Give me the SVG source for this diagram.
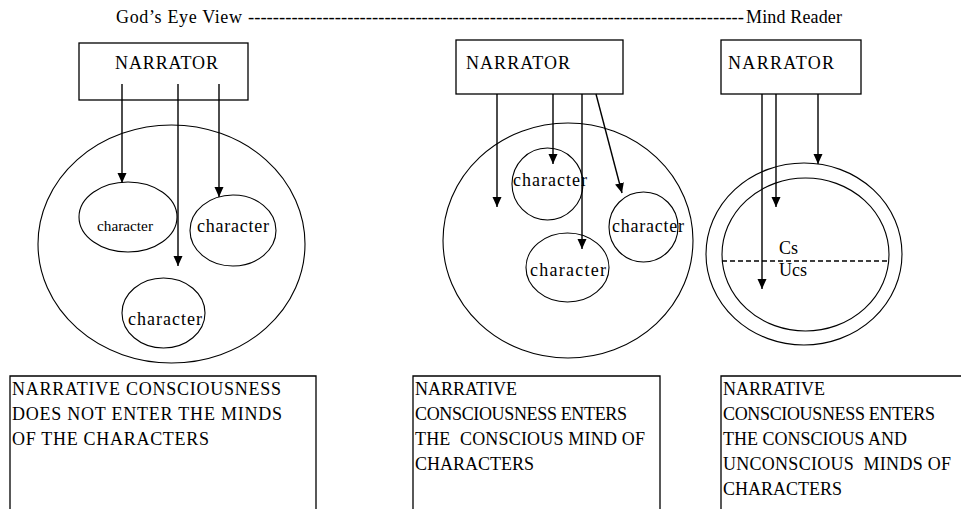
<svg xmlns="http://www.w3.org/2000/svg" width="961" height="509" viewBox="0 0 961 509" font-family="'Liberation Serif', 'DejaVu Serif', 'Times New Roman', serif">
<style>
  text { font-family: "Liberation Serif", "DejaVu Serif", "Times New Roman", serif; fill: #000; font-size: 18px; }
  .chs { font-size: 14px; }
  .box { fill: #fff; stroke: #000; stroke-width: 1.3; }
  .ell { fill: none; stroke: #000; stroke-width: 1.1; }
  .arr { fill: none; stroke: #000; stroke-width: 1.4; marker-end: url(#ah); }
  .dash { fill: none; stroke: #000; stroke-width: 1.3; stroke-dasharray: 5 3; }
</style>
<defs>
  <marker id="ah" markerUnits="userSpaceOnUse" markerWidth="10" markerHeight="10" viewBox="0 0 10 10" refX="10" refY="5" orient="auto">
    <path d="M0,0.5 L10,5 L0,9.5 z" fill="#000"/>
  </marker>
</defs>
<rect width="961" height="509" fill="#fff"/>

<g id="title">
  <text x="116" y="23" textLength="126" lengthAdjust="spacing">God’s Eye View</text>
  <text x="248" y="23" textLength="496" lengthAdjust="spacingAndGlyphs">--------------------------------------------------------------------------------</text>
  <text x="746" y="23" textLength="96" lengthAdjust="spacing">Mind Reader</text>
</g>

<!-- Panel 1 -->
<g id="p1-world"><ellipse class="ell" cx="171.5" cy="244" rx="133.5" ry="119"/></g>
<g id="p1-narrator">
  <rect class="box" x="79" y="43" width="169" height="57"/>
  <text x="115" y="69" textLength="103" lengthAdjust="spacing">NARRATOR</text>
</g>
<g id="p1-char1">
  <ellipse class="ell" cx="128" cy="217" rx="49" ry="35"/>
  <text class="chs" x="97" y="231" textLength="56" lengthAdjust="spacingAndGlyphs">character</text>
</g>
<g id="p1-char2">
  <ellipse class="ell" cx="233" cy="230.5" rx="43" ry="35.5"/>
  <text x="197" y="232" textLength="72" lengthAdjust="spacing">character</text>
</g>
<g id="p1-char3">
  <ellipse class="ell" cx="163.5" cy="313" rx="41.5" ry="35"/>
  <text x="128" y="325" textLength="74" lengthAdjust="spacing">character</text>
</g>

<!-- Panel 2 -->
<g id="p2-world"><ellipse class="ell" cx="568" cy="240.5" rx="125" ry="117.5"/></g>
<g id="p2-narrator">
  <rect class="box" x="456" y="40" width="167" height="54"/>
  <text x="466" y="69" textLength="104" lengthAdjust="spacing">NARRATOR</text>
</g>
<g id="p2-char1">
  <ellipse class="ell" cx="547.5" cy="184" rx="35.5" ry="36"/>
  <text x="513" y="186" textLength="74" lengthAdjust="spacing">character</text>
</g>
<g id="p2-char2">
  <ellipse class="ell" cx="643.5" cy="227" rx="34.5" ry="35"/>
  <text x="612" y="232" textLength="72" lengthAdjust="spacing">character</text>
</g>
<g id="p2-char3">
  <ellipse class="ell" cx="567.5" cy="267.5" rx="41.5" ry="34.5"/>
  <text x="530" y="276" textLength="76" lengthAdjust="spacing">character</text>
</g>

<!-- Panel 3 -->
<g id="p3-mind">
  <ellipse class="ell" cx="804" cy="254" rx="98" ry="91"/>
  <ellipse class="ell" cx="805.5" cy="254.5" rx="83.5" ry="76.5"/>
  <line class="dash" x1="722" y1="261" x2="889" y2="261"/>
  <text x="779" y="254">Cs</text>
  <text x="779" y="276">Ucs</text>
</g>
<g id="p3-narrator">
  <rect class="box" x="721" y="40" width="140" height="54"/>
  <text x="728" y="69" textLength="106" lengthAdjust="spacing">NARRATOR</text>
</g>

<!-- Connectors -->
<g id="connectors">
  <line class="arr" x1="122" y1="84" x2="122" y2="183"/>
  <line class="arr" x1="178" y1="84" x2="178" y2="266"/>
  <line class="arr" x1="219" y1="84" x2="219" y2="197"/>
  <line class="arr" x1="497" y1="94" x2="497" y2="207"/>
  <line class="arr" x1="553" y1="94" x2="553" y2="164"/>
  <line class="arr" x1="582" y1="94" x2="582" y2="249"/>
  <line class="arr" x1="596" y1="94" x2="622" y2="193"/>
  <line class="arr" x1="762" y1="94" x2="762" y2="289"/>
  <line class="arr" x1="776" y1="94" x2="776" y2="207"/>
  <line class="arr" x1="818" y1="94" x2="818" y2="164"/>
</g>

<!-- Caption boxes -->
<g id="caption1">
  <path class="box" d="M10,512 L10,376 L316,376 L316,512"/>
  <text x="12" y="395" textLength="269" lengthAdjust="spacing">NARRATIVE CONSCIOUSNESS</text>
  <text x="12" y="420" textLength="270" lengthAdjust="spacing">DOES NOT ENTER THE MINDS</text>
  <text x="12" y="445" textLength="197" lengthAdjust="spacing">OF THE CHARACTERS</text>
</g>
<g id="caption2">
  <path class="box" d="M413,512 L413,376 L660,376 L660,512"/>
  <text x="415" y="395">NARRATIVE</text>
  <text x="415" y="420" textLength="212" lengthAdjust="spacing">CONSCIOUSNESS ENTERS</text>
  <text x="415" y="445" textLength="230" lengthAdjust="spacing" xml:space="preserve">THE  CONSCIOUS MIND OF</text>
  <text x="415" y="470">CHARACTERS</text>
</g>
<g id="caption3">
  <path class="box" d="M721,512 L721,376 L965,376"/>
  <text x="723" y="395">NARRATIVE</text>
  <text x="723" y="420" textLength="212" lengthAdjust="spacing">CONSCIOUSNESS ENTERS</text>
  <text x="723" y="445">THE CONSCIOUS AND</text>
  <text x="723" y="470" textLength="228" lengthAdjust="spacing" xml:space="preserve">UNCONSCIOUS  MINDS OF</text>
  <text x="723" y="495">CHARACTERS</text>
</g>
</svg>
